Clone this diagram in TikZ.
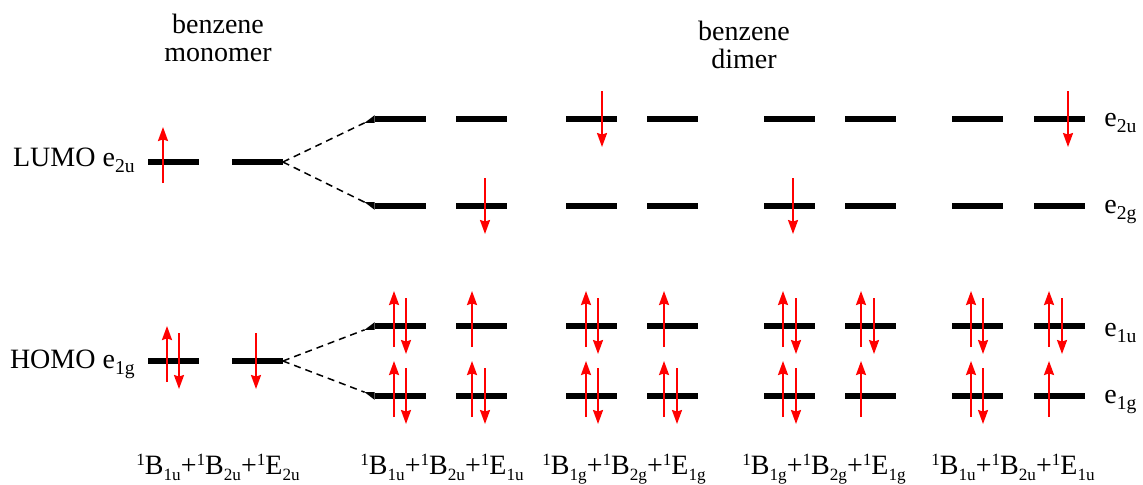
\documentclass[tikz,border=0pt]{standalone}
\usepackage{fontspec}
\setmainfont{Liberation Serif}
\usetikzlibrary{arrows.meta,positioning,calc}
\definecolor{spinred}{HTML}{FF0000}
\tikzset{
  level/.style={fill=black, inner sep=0pt, minimum width=25.5pt, minimum height=3.4pt},
  spin/.style={draw=spinred, line width=1pt, -{Stealth[length=7pt,width=5pt,inset=0.8pt]}},
  corr/.style={dash pattern=on 3.5pt off 2.5pt, line width=0.75pt},
  orblabel/.style={anchor=base west, inner sep=0pt},
  statelabel/.style={anchor=base, inner sep=0pt},
  titlelabel/.style={anchor=base, align=center, inner sep=0pt},
}
\newcommand{\spinup}[2]{\draw[spin] ($(#1.center)+(#2,21)$) -- ++(0,-56);}
\newcommand{\spindown}[2]{\draw[spin] ($(#1.center)+(#2,-28)$) -- ++(0,56);}
\newcommand{\sbs}[1]{\raisebox{-3pt}{\fontsize{9.8}{9.8}\selectfont #1}}
\newcommand{\termsb}[1]{\raisebox{-3.3pt}{\fontsize{8.6}{8.6}\selectfont #1}}
\newcommand{\termsp}[1]{\raisebox{4.3pt}{\fontsize{8.6}{8.6}\selectfont #1}}
\newcommand{\term}[2]{\termsp{1}#1\termsb{#2}}

\begin{document}
\begin{tikzpicture}[x=0.5pt, y=-0.5pt, font=\fontsize{14}{14}\selectfont]
  \useasboundingbox (0,0) rectangle (1143,484);
  % titles
  \node[titlelabel] (tmono) at (218,61) {benzene\\monomer};
  \node[titlelabel] (tdimer) at (744,68) {benzene\\dimer};
  % monomer levels
  \node[level] (mlumoA) at (173.5,162) {};
  \node[level] (mlumoB) at (257,162) {};
  \node[level] (mhomoA) at (173.5,361) {};
  \node[level] (mhomoB) at (257,361) {};
  \node[anchor=base east, inner sep=0pt] (llumo) at (135,166) {LUMO e\sbs{2u}};
  \node[anchor=base east, inner sep=0pt] (lhomo) at (135,368) {HOMO e\sbs{1g}};
  % dimer levels, e2u
  \node[level] (g1a2u) at (400.5,119) {};
  \node[level] (g1b2u) at (481.5,119) {};
  \node[level] (g2a2u) at (591.5,119) {};
  \node[level] (g2b2u) at (672.5,119) {};
  \node[level] (g3a2u) at (789.5,119) {};
  \node[level] (g3b2u) at (870.5,119) {};
  \node[level] (g4a2u) at (977.5,119) {};
  \node[level] (g4b2u) at (1059.5,119) {};
  % e2g
  \node[level] (g1a2g) at (400.5,206) {};
  \node[level] (g1b2g) at (481.5,206) {};
  \node[level] (g2a2g) at (591.5,206) {};
  \node[level] (g2b2g) at (672.5,206) {};
  \node[level] (g3a2g) at (789.5,206) {};
  \node[level] (g3b2g) at (870.5,206) {};
  \node[level] (g4a2g) at (977.5,206) {};
  \node[level] (g4b2g) at (1059.5,206) {};
  % e1u
  \node[level] (g1a1u) at (400.5,326) {};
  \node[level] (g1b1u) at (481.5,326) {};
  \node[level] (g2a1u) at (591.5,326) {};
  \node[level] (g2b1u) at (672.5,326) {};
  \node[level] (g3a1u) at (789.5,326) {};
  \node[level] (g3b1u) at (870.5,326) {};
  \node[level] (g4a1u) at (977.5,326) {};
  \node[level] (g4b1u) at (1059.5,326) {};
  % e1g
  \node[level] (g1a1g) at (400.5,396) {};
  \node[level] (g1b1g) at (481.5,396) {};
  \node[level] (g2a1g) at (591.5,396) {};
  \node[level] (g2b1g) at (672.5,396) {};
  \node[level] (g3a1g) at (789.5,396) {};
  \node[level] (g3b1g) at (870.5,396) {};
  \node[level] (g4a1g) at (977.5,396) {};
  \node[level] (g4b1g) at (1059.5,396) {};
  % orbital labels
  \node[orblabel] (l2u) at (1104,126) {e\sbs{2u}};
  \node[orblabel] (l2g) at (1104,213) {e\sbs{2g}};
  \node[orblabel] (l1u) at (1104,336) {e\sbs{1u}};
  \node[orblabel] (l1g) at (1104,403) {e\sbs{1g}};
  % state labels
  \node[statelabel] (smono) at (218,474) {\term{B}{1u}+\term{B}{2u}+\term{E}{2u}};
  \node[statelabel] (sg1) at (442,474) {\term{B}{1u}+\term{B}{2u}+\term{E}{1u}};
  \node[statelabel] (sg2) at (624,474) {\term{B}{1g}+\term{B}{2g}+\term{E}{1g}};
  \node[statelabel] (sg3) at (824,474) {\term{B}{1g}+\term{B}{2g}+\term{E}{1g}};
  \node[statelabel] (sg4) at (1013,474) {\term{B}{1u}+\term{B}{2u}+\term{E}{1u}};
  % correlation lines
  \coordinate (tap2u) at ($(g1a2u.south west)+(-10,0)$);
  \coordinate (tap2g) at ($(g1a2g.north west)+(-10,0)$);
  \coordinate (tap1u) at ($(g1a1u.south west)+(-10,0)$);
  \coordinate (tap1g) at ($(g1a1g.north west)+(-10,0)$);
  \draw[corr] (mlumoB.east) -- (tap2u);
  \draw[corr] (mlumoB.east) -- (tap2g);
  \draw[corr] (mhomoB.east) -- (tap1u);
  \draw[corr] (mhomoB.east) -- (tap1g);
  \fill (tap2u) -- (g1a2u.north west) -- (g1a2u.south west) -- cycle;
  \fill (tap2g) -- (g1a2g.south west) -- (g1a2g.north west) -- cycle;
  \fill (tap1u) -- (g1a1u.north west) -- (g1a1u.south west) -- cycle;
  \fill (tap1g) -- (g1a1g.south west) -- (g1a1g.north west) -- cycle;
  % electrons, monomer
  \spinup{mlumoA}{-10.5}
  \spinup{mhomoA}{-6.5}
  \spindown{mhomoA}{5.5}
  \spindown{mhomoB}{-1}
  % electrons, dimer
  \spindown{g1b2g}{3.5}
  \spinup{g1a1u}{-6.5} \spindown{g1a1u}{5.5}
  \spinup{g1b1u}{-9.5}
  \spinup{g1a1g}{-6.5} \spindown{g1a1g}{5.5}
  \spinup{g1b1g}{-9.5} \spindown{g1b1g}{3.5}
  \spindown{g2a2u}{10.5}
  \spinup{g2a1u}{-5.5} \spindown{g2a1u}{6.5}
  \spinup{g2b1u}{-8.5}
  \spinup{g2a1g}{-5.5} \spindown{g2a1g}{6.5}
  \spinup{g2b1g}{-8.5} \spindown{g2b1g}{4.5}
  \spindown{g3a2g}{3.5}
  \spinup{g3a1u}{-6.5} \spindown{g3a1u}{6.5}
  \spinup{g3b1u}{-9.5} \spindown{g3b1u}{3.5}
  \spinup{g3a1g}{-6.5} \spindown{g3a1g}{6.5}
  \spinup{g3b1g}{-9.5}
  \spindown{g4b2u}{8.5}
  \spinup{g4a1u}{-6.5} \spindown{g4a1u}{5.5}
  \spinup{g4b1u}{-10.5} \spindown{g4b1u}{2.5}
  \spinup{g4a1g}{-6.5} \spindown{g4a1g}{5.5}
  \spinup{g4b1g}{-10.5}
\end{tikzpicture}
\end{document}
